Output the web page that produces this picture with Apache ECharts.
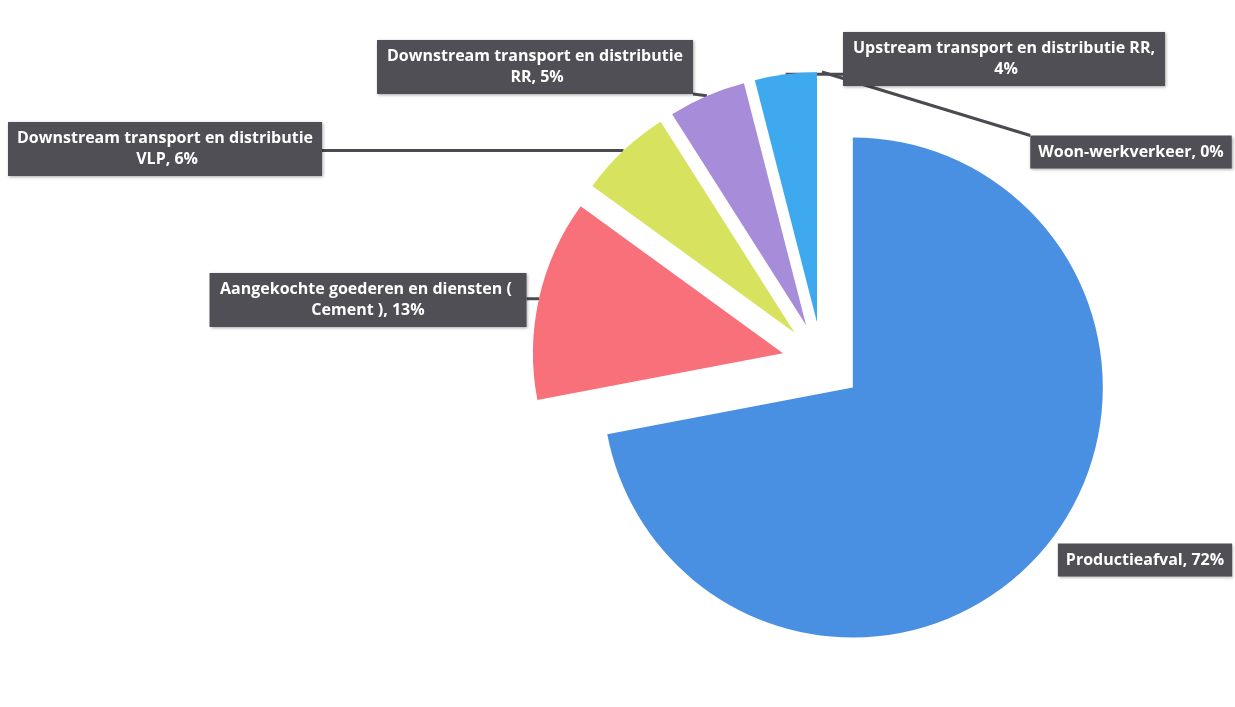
<!DOCTYPE html>
<html>
<head>
<meta charset="utf-8">
<script src="https://cdn.jsdelivr.net/npm/echarts@6/dist/echarts.min.js"></script>
<style>
  html, body { margin: 0; padding: 0; background: #fff; }
  #chart { width: 1235px; height: 707px; }
</style>
</head>
<body>
<div id="chart"></div>
<script>
// categorieen en waarden (procent)
var names = [
  'Productieafval',
  'Aangekochte goederen en diensten ( Cement )',
  'Downstream transport en distributie VLP',
  'Downstream transport en distributie RR',
  'Upstream transport en distributie RR',
  'Woon-werkverkeer'
];
var values = [72, 13, 6, 5, 4, 0];
var colors = ['#4a90e2', '#f7707a', '#d7e35e', '#a78cd9', '#3fa9f0', '#8bc34a'];

// label plaatsing (midden van het label) en tekstbreedte
var labelPos = [[1145, 560], [368, 300], [165, 149], [535, 67], [1004, 59], [1131, 152]];
var labelWidth = [null, 301, 298, 300, 306, null];

var pieCenter = [822, 362];
var pieRadius = 250;
var explode = 40;

var myChart = echarts.init(document.getElementById('chart'));

function clamp(v, a, b) {
  return Math.max(a, Math.min(b, v));
}

var option = {
  animation: false,
  series: [
    {
      // de uitgetrokken taartpunten
      type: 'pie',
      center: pieCenter,
      radius: pieRadius,
      startAngle: 90,
      clockwise: true,
      selectedMode: 'multiple',
      selectedOffset: explode,
      silent: true,
      label: { show: false },
      labelLine: { show: false },
      data: names.map(function (n, i) {
        return { name: n, value: values[i], selected: true, itemStyle: { color: colors[i] } };
      })
    },
    {
      // onzichtbare taart alleen voor de labels (straal = straal + offset)
      type: 'pie',
      center: pieCenter,
      radius: pieRadius + explode,
      startAngle: 90,
      clockwise: true,
      silent: true,
      avoidLabelOverlap: false,
      itemStyle: { color: 'rgba(0,0,0,0)' },
      label: {
        show: true,
        color: '#fff',
        fontFamily: 'Open Sans',
        fontWeight: 'bold',
        fontSize: 16,
        lineHeight: 21,
        align: 'center',
        backgroundColor: '#4f4f55',
        padding: [6, 8],
        overflow: 'break',
        shadowBlur: 3,
        shadowColor: 'rgba(0,0,0,0.35)',
        shadowOffsetX: 1,
        shadowOffsetY: 1,
        formatter: function (p) {
          return p.name + ', ' + Math.round(p.percent) + '%';
        }
      },
      labelLine: {
        show: true,
        length: 0,
        length2: 0,
        lineStyle: { color: '#4a4a50', width: 3 }
      },
      labelLayout: function (p) {
        var pos = labelPos[p.dataIndex];
        var w = p.labelRect.width, h = p.labelRect.height;
        var res = { x: pos[0], y: pos[1], align: 'center', verticalAlign: 'middle' };
        if (p.labelLinePoints && p.labelLinePoints.length) {
          var s = p.labelLinePoints[0];
          var e = [clamp(s[0], pos[0] - w / 2, pos[0] + w / 2), clamp(s[1], pos[1] - h / 2, pos[1] + h / 2)];
          res.labelLinePoints = [s, s, e];
        }
        return res;
      },
      data: names.map(function (n, i) {
        var item = { name: n, value: values[i] };
        if (labelWidth[i]) {
          item.label = { width: labelWidth[i] };
        }
        if (i === 0) {
          // label ligt tegen de taartpunt aan, geen lijn zichtbaar
          item.labelLine = { show: false };
        }
        return item;
      })
    }
  ]
};

myChart.setOption(option);
</script>
</body>
</html>
